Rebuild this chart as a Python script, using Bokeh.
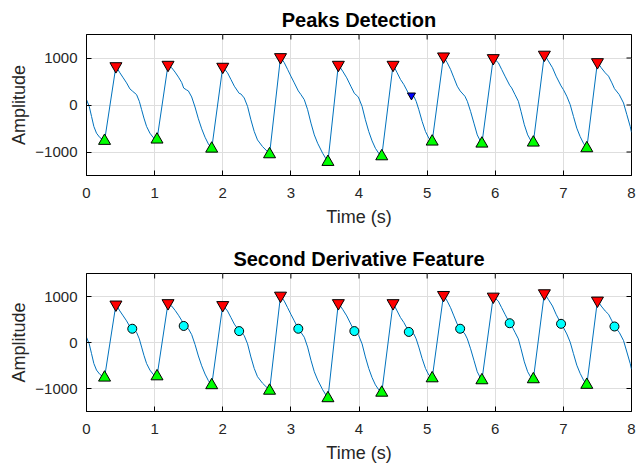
from bokeh.plotting import figure
from bokeh.layouts import column
from bokeh.models import FixedTicker, Range1d
from bokeh.embed import file_html
from bokeh.resources import INLINE
import math

# ---------------- data ----------------
sig_t = [0.000, 0.040, 0.074, 0.108, 0.147, 0.196, 0.245, 0.265,
         0.432, 0.490, 0.539, 0.588, 0.637, 0.672, 0.735, 0.775, 0.809, 0.843, 0.882, 0.931, 0.980, 1.035,
         1.197, 1.250, 1.300, 1.350, 1.397, 1.427, 1.470, 1.495, 1.544, 1.593, 1.642, 1.691, 1.740, 1.789, 1.838,
         2.000, 2.070, 2.120, 2.170, 2.241, 2.266, 2.315, 2.364, 2.413, 2.462, 2.510, 2.584, 2.658, 2.687,
         2.848, 2.903, 2.952, 3.000, 3.050, 3.109, 3.148, 3.197, 3.246, 3.295, 3.344, 3.393, 3.467, 3.544,
         3.697, 3.760, 3.820, 3.880, 3.932, 3.980, 3.996, 4.045, 4.094, 4.143, 4.192, 4.241, 4.290, 4.334,
         4.500, 4.560, 4.609, 4.658, 4.700, 4.731, 4.770, 4.805, 4.839, 4.878, 4.927, 4.976, 5.025, 5.074,
         5.241, 5.295, 5.344, 5.393, 5.442, 5.485, 5.555, 5.590, 5.638, 5.687, 5.736, 5.785, 5.804,
         5.971, 6.045, 6.094, 6.143, 6.212, 6.241, 6.290, 6.339, 6.378, 6.427, 6.476, 6.525, 6.559,
         6.721, 6.780, 6.840, 6.893, 6.966, 7.000, 7.050, 7.100, 7.148, 7.197, 7.246, 7.295, 7.344,
         7.500, 7.555, 7.614, 7.663, 7.712, 7.750, 7.820, 7.883, 7.932, 7.981, 8.000]
sig_a = [114, -29, -243, -457, -600, -693, -743, -764,
         826, 685, 578, 471, 343, 299, 221, 79, -100, -278, -457, -600, -693, -736,
         856, 793, 700, 593, 480, 360, 320, 300, 171, -43, -293, -507, -686, -829, -929,
         814, 685, 543, 400, 248, 236, 150, -29, -314, -564, -743, -885, -993, -1049,
         1019, 900, 757, 614, 471, 299, 221, 114, -100, -386, -636, -814, -1028, -1212,
         856, 721, 578, 400, 248, 186, 150, -29, -314, -564, -764, -921, -1028, -1092,
         856, 685, 543, 436, 320, 230, 206, 186, 79, -100, -350, -564, -707, -779,
         1034, 900, 757, 578, 400, 299, 186, 79, -136, -386, -636, -778, -822,
         998, 900, 757, 614, 419, 364, 221, 79, -136, -421, -636, -764, -800,
         1071, 935, 793, 614, 406, 328, 186, 7, -243, -493, -671, -814, -921,
         912, 793, 685, 614, 471, 348, 221, 43, -207, -457, -580]

peak_t = [0.432, 1.197, 2.000, 2.848, 3.697, 4.500, 5.241, 5.971, 6.721, 7.500]
peak_a = [826, 856, 814, 1019, 856, 856, 1034, 998, 1071, 912]
trough_t = [0.265, 1.035, 1.838, 2.687, 3.544, 4.334, 5.074, 5.804, 6.559, 7.344]
trough_a = [-764, -736, -929, -1049, -1212, -1092, -779, -822, -800, -921]
reject_t = [4.770]
reject_a = [206]
feat_t = [0.672, 1.427, 2.241, 3.109, 3.932, 4.731, 5.485, 6.212, 6.966, 7.750]
feat_a = [299, 360, 248, 299, 248, 230, 299, 419, 406, 348]

x_ticks = [0, 1, 2, 3, 4, 5, 6, 7, 8]
y_ticks = [-1000, 0, 1000]
x_lim = (0, 8)
y_lim = (-1500, 1500)
titles = ["Peaks Detection", "Second Derivative Feature"]
x_label = "Time (s)"
y_label = "Amplitude"

FONT = "Liberation Sans"
TXT = "#262626"


def style_axis(ax):
    ax.major_tick_in = 5
    ax.major_tick_out = 0
    ax.minor_tick_in = 0
    ax.minor_tick_out = 0
    ax.axis_line_color = "black"
    ax.major_tick_line_color = "black"
    ax.major_label_text_font = FONT
    ax.major_label_text_color = TXT
    ax.major_label_text_font_size = "15px"
    ax.axis_label_text_font = FONT
    ax.axis_label_text_font_size = "18px"
    ax.axis_label_text_font_style = "normal"
    ax.axis_label_text_color = TXT


def make_fig(title, height, top, bottom, feature):
    p = figure(width=640, height=height, x_range=Range1d(*x_lim), y_range=Range1d(*y_lim),
               output_backend="svg", toolbar_location=None,
               min_border_left=86, min_border_right=9, min_border_top=top, min_border_bottom=bottom)
    p.title.text = title
    p.title.align = "center"
    p.title.text_font = FONT
    p.title.text_font_size = "20px"
    p.title.text_font_style = "bold"
    p.title.text_color = "black"
    p.title.standoff = 8
    p.outline_line_color = "black"
    p.outline_line_width = 1
    p.background_fill_color = "white"
    p.border_fill_color = "white"

    p.xaxis.ticker = FixedTicker(ticks=x_ticks)
    p.yaxis.ticker = FixedTicker(ticks=y_ticks)
    style_axis(p.xaxis[0])
    style_axis(p.yaxis[0])
    p.xaxis.axis_label = x_label
    p.yaxis.axis_label = y_label
    p.xaxis.major_label_standoff = 12
    p.xaxis.axis_label_standoff = 6
    p.yaxis.major_label_standoff = 9
    p.yaxis.axis_label_standoff = 3

    p.grid.grid_line_color = "#dedede"
    p.grid.grid_line_width = 1
    p.xgrid.ticker = FixedTicker(ticks=x_ticks)
    p.ygrid.ticker = FixedTicker(ticks=y_ticks)

    # inward ticks on the top and right edges of the box (clipped to the frame)
    p.scatter(x_ticks, [y_lim[1]] * len(x_ticks), marker="dash", angle=math.pi / 2, size=10,
              line_color="black", line_width=1)
    p.scatter([x_lim[1]] * len(y_ticks), y_ticks, marker="dash", size=10,
              line_color="black", line_width=1)

    p.line(sig_t, sig_a, line_color="#0072BD", line_width=1)
    p.scatter(peak_t, peak_a, marker="inverted_triangle", size=12,
              fill_color="#ff0000", line_color="black", line_width=1)
    p.scatter(trough_t, trough_a, marker="triangle", size=12,
              fill_color="#00ff00", line_color="black", line_width=1)
    if feature:
        p.scatter(feat_t, feat_a, marker="circle", size=9,
                  fill_color="#00ffff", line_color="black", line_width=1)
    else:
        p.scatter(reject_t, reject_a, marker="inverted_triangle", size=8,
                  fill_color="#0000ff", line_color="black", line_width=1)
    return p


p1 = make_fig(titles[0], 238, 34, 63, False)
p2 = make_fig(titles[1], 227, 35, 53, True)
layout = column(p1, p2, spacing=0)

open("out.html", "w").write(file_html(layout, INLINE))
